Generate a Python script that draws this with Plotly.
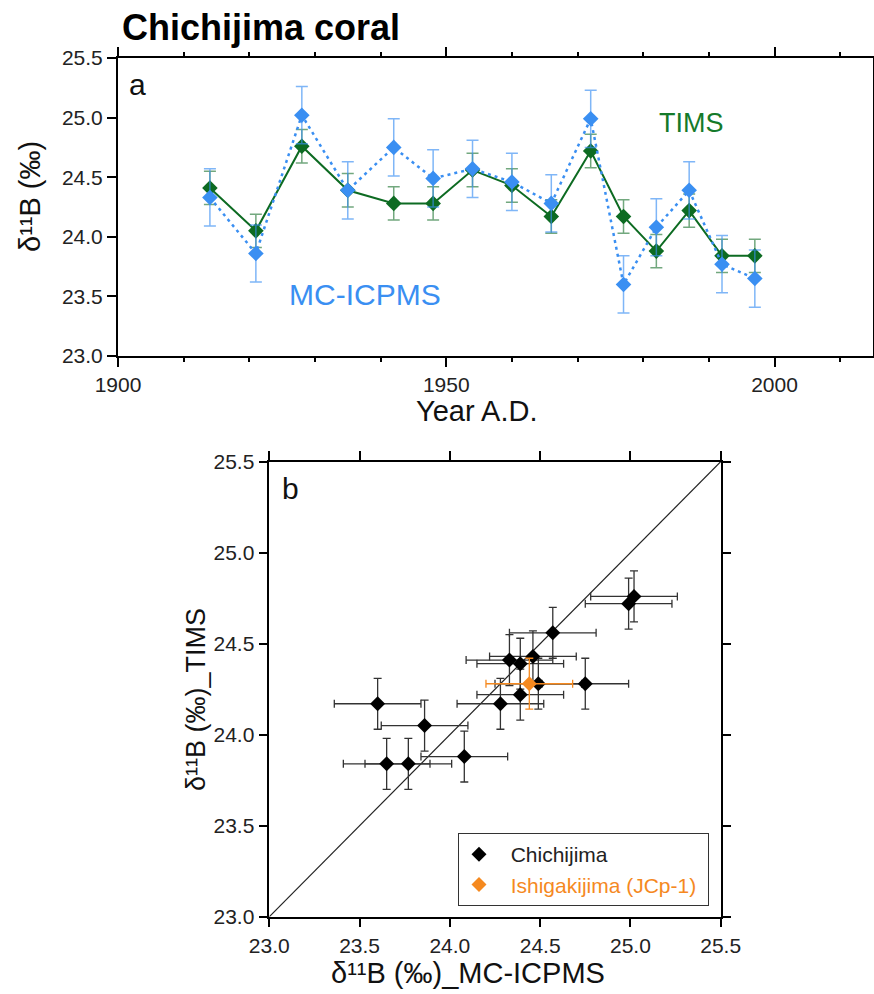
import plotly.graph_objects as go

# ---- data ----
years = [1914, 1921, 1928, 1935, 1942, 1948, 1954, 1960, 1966, 1972, 1977, 1982, 1987, 1992, 1997]
tims = [24.41, 24.05, 24.76, 24.39, 24.28, 24.28, 24.56, 24.43, 24.17, 24.72, 24.17, 23.88, 24.22, 23.84, 23.84]
tims_err = [0.14] * 15
mc_icpms = [24.33, 23.86, 25.02, 24.39, 24.75, 24.49, 24.57, 24.46, 24.28, 24.99, 23.60, 24.08, 24.39, 23.77, 23.65]
mc_err = [0.24] * 15

jcp_mc = [24.44]
jcp_tims = [24.28]
jcp_mc_err = [0.24]
jcp_tims_err = [0.14]

one_to_one = [23.0, 25.5]

W, H = 874, 994
FONT = "Liberation Sans, Arial, sans-serif"
GREEN = "#0d6b22"
GREEN_EB = "rgba(20,110,40,0.6)"
BLUE = "#3a8ff2"
BLUE_EB = "rgba(58,143,242,0.65)"
ORANGE = "#f5891f"
NB = "\u00a0"

def px(x):
    return x / W

def py(y):
    return 1 - y / H

fig = go.Figure()

# ---- panel a ----
fig.add_trace(go.Scatter(
    x=years, y=tims, mode="lines+markers", xaxis="x", yaxis="y",
    line=dict(color=GREEN, width=2),
    marker=dict(symbol="diamond", size=12, color=GREEN),
    error_y=dict(type="data", array=tims_err, color=GREEN_EB, thickness=1.5, width=6),
    showlegend=False))
fig.add_trace(go.Scatter(
    x=years, y=mc_icpms, mode="lines+markers", xaxis="x", yaxis="y",
    line=dict(color=BLUE, width=2.5, dash="3px,4px"),
    marker=dict(symbol="diamond", size=12, color=BLUE),
    error_y=dict(type="data", array=mc_err, color=BLUE_EB, thickness=1.5, width=6),
    showlegend=False))

# ---- panel b ----
fig.add_trace(go.Scatter(
    x=one_to_one, y=one_to_one, mode="lines", xaxis="x2", yaxis="y2",
    line=dict(color="#222222", width=1.2), showlegend=False, hoverinfo="skip"))
fig.add_trace(go.Scatter(
    x=mc_icpms, y=tims, mode="markers", xaxis="x2", yaxis="y2",
    name=NB * 2 + "Chichijima",
    marker=dict(symbol="diamond", size=11.5, color="black"),
    error_x=dict(type="data", array=mc_err, color="#333333", thickness=1.3, width=4),
    error_y=dict(type="data", array=tims_err, color="#333333", thickness=1.3, width=4)))
fig.add_trace(go.Scatter(
    x=jcp_mc, y=jcp_tims, mode="markers", xaxis="x2", yaxis="y2",
    name=NB * 2 + "<span style='color:%s'>Ishigakijima (JCp-1)</span>" % ORANGE + NB,
    marker=dict(symbol="diamond", size=11.5, color=ORANGE),
    error_x=dict(type="data", array=jcp_mc_err, color=ORANGE, thickness=1.3, width=4),
    error_y=dict(type="data", array=jcp_tims_err, color=ORANGE, thickness=1.3, width=4)))

tickfont = dict(family=FONT, size=21, color="#222222")

axis_common = dict(showgrid=False, zeroline=False, linecolor="black", linewidth=2,
                   ticks="outside", tickcolor="black", tickwidth=1.5,
                   tickfont=tickfont, automargin=False, showline=True)

fig.update_layout(
    width=W, height=H,
    margin=dict(l=0, r=0, t=0, b=0, pad=0),
    paper_bgcolor="white", plot_bgcolor="white",
    xaxis=dict(domain=[px(118), px(873)], range=[1900, 2015], anchor="y",
               tickvals=[1900, 1950, 2000], ticklen=9, mirror="ticks",
               minor=dict(dtick=10, tick0=1900, ticklen=4, ticks="outside",
                          tickcolor="black", tickwidth=1.5),
               **axis_common),
    yaxis=dict(domain=[py(356), py(58)], range=[23.0, 25.5], anchor="x",
               tickvals=[23.0, 23.5, 24.0, 24.5, 25.0, 25.5], tickformat=".1f",
               ticklen=9, mirror=True, **axis_common),
    xaxis2=dict(domain=[px(269.3), px(720.7)], range=[23.0, 25.5], anchor="y2",
                tickvals=[23.0, 23.5, 24.0, 24.5, 25.0, 25.5], tickformat=".1f",
                ticklen=9, mirror="ticks", **{**axis_common, "linewidth": 1.5}),
    yaxis2=dict(domain=[py(916.7), py(461.7)], range=[23.0, 25.5], anchor="x2",
                tickvals=[23.0, 23.5, 24.0, 24.5, 25.0, 25.5], tickformat=".1f",
                ticklen=9, mirror="ticks", **{**axis_common, "linewidth": 1.5}),
    legend=dict(x=px(458), y=py(833), xanchor="left", yanchor="top",
                bgcolor="white", bordercolor="#333333", borderwidth=1,
                font=dict(family=FONT, size=21, color="#222222"),
                tracegroupgap=0),
)

def ann(text, x, y, size, color="#111111", angle=0, bold=False):
    fig.add_annotation(text=("<b>%s</b>" % text) if bold else text,
                       x=px(x), y=py(y), xref="paper", yref="paper",
                       xanchor="center", yanchor="middle", showarrow=False,
                       textangle=angle,
                       font=dict(family=FONT, size=size, color=color))

ann("Chichijima coral", 261, 27, 36, color="black", bold=True)
ann("a", 137, 85, 30)
ann("b", 290, 489, 30)
ann("TIMS", 691, 123, 27, color="#157a2a")
ann("MC-ICPMS", 364.5, 294, 30, color=BLUE)
ann("Year A.D.", 477, 411, 29)
ann("δ¹¹B (‰)", 30, 197, 29, angle=-90)
ann("δ¹¹B (‰)_TIMS", 196, 700, 27, angle=-90)
ann("δ¹¹B (‰)_MC-ICPMS", 468, 973, 29)

fig.write_html("out.html", config={"displayModeBar": False},
               post_script="document.body.style.margin='0';document.body.style.overflow='hidden';")
